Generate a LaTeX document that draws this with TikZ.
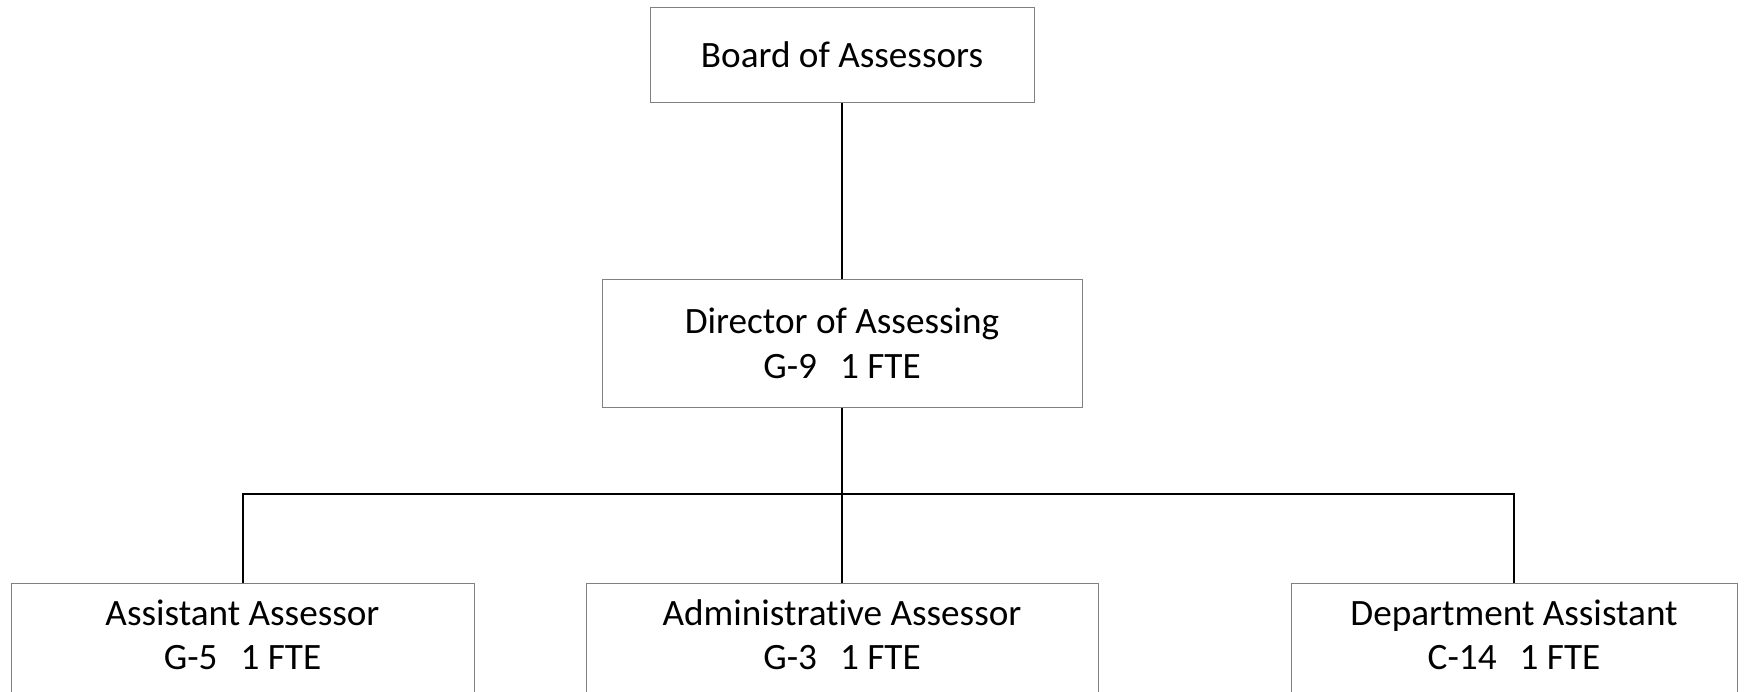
\documentclass[tikz,border=0pt]{standalone}
\usepackage{fontspec}
\setmainfont{Carlito}[Ligatures={NoCommon}]
\begin{document}
\begin{tikzpicture}[x=0.5pt,y=-0.5pt,
  box/.style={draw=black!50,line width=0.5pt,inner sep=0pt},
  lbl/.style={anchor=base,inner sep=0pt,font=\fontsize{18.6pt}{22pt}\selectfont},
  wire/.style={draw=black,line width=1pt}]
\useasboundingbox (0,0) rectangle (1744,691);
\clip (0,0) rectangle (1744,691);
% boxes
\node[box,minimum width=192pt,minimum height=47.5pt] (board) at (842,54.5) {};
\node[box,minimum width=240pt,minimum height=64pt] (dir) at (842,343) {};
\node[box,minimum width=231.5pt,minimum height=80pt] (aa) at (242.5,663) {};
\node[box,minimum width=256pt,minimum height=80pt] (adm) at (842,663) {};
\node[box,minimum width=223pt,minimum height=80pt] (da) at (1514,663) {};
% texts
\node[lbl] (t1) at (842,67) {Board of Assessors};
\node[lbl] (t2a) at (842,333) {Director of Assessing};
\node[lbl] (t2b) at (842,378) {G-9\hspace{0.62em}1 FTE};
\node[lbl] (t3a) at (242.5,625) {Assistant Assessor};
\node[lbl] (t3b) at (242.5,669) {G-5\hspace{0.62em}1 FTE};
\node[lbl] (t4a) at (842,625) {Administrative Assessor};
\node[lbl] (t4b) at (842,669) {G-3\hspace{0.62em}1 FTE};
\node[lbl] (t5a) at (1514,625) {Department Assistant};
\node[lbl] (t5b) at (1514,669) {C-14\hspace{0.62em}1 FTE};
% connectors
\coordinate (bus) at (842,494);
\draw[wire] (board.south) -- (dir.north);
\draw[wire] (dir.south) -- (adm.north);
\draw[wire] (aa.north) |- (bus) -| (da.north);
\end{tikzpicture}
\end{document}
